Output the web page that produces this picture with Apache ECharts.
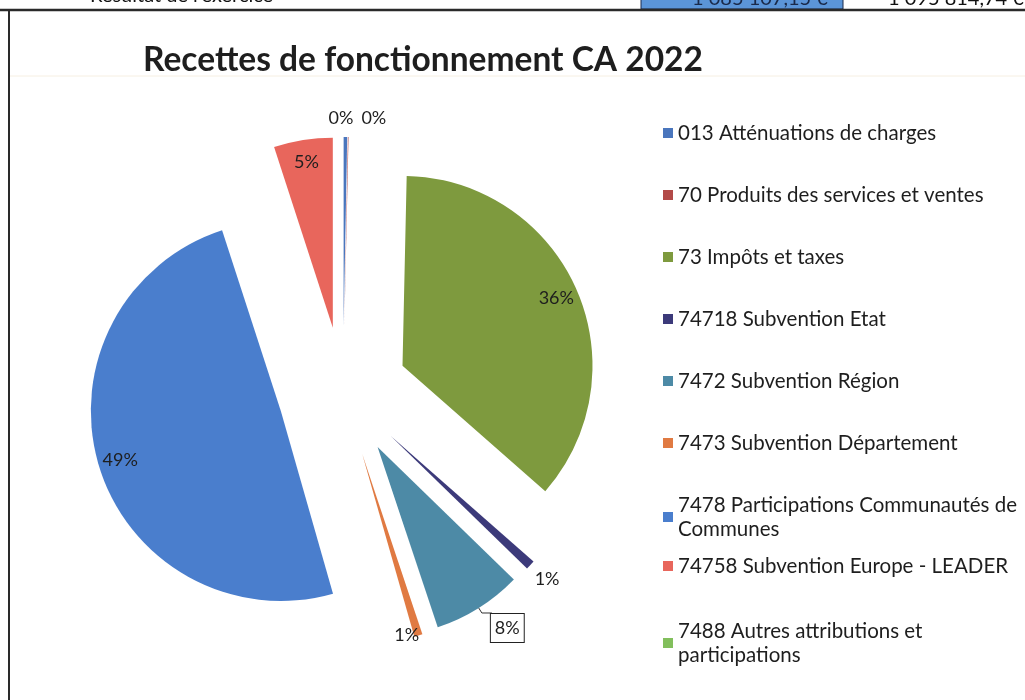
<!DOCTYPE html>
<html>
<head>
<meta charset="utf-8">
<script src="https://cdn.jsdelivr.net/npm/echarts@6/dist/echarts.min.js"></script>
<style>
  html, body { margin: 0; padding: 0; background: #fff; }
  #chart { width: 1025px; height: 700px; }
</style>
</head>
<body>
<div id="chart"></div>
<script>
  // postes de recettes (ordre de la légende / du camembert)
  var categories = [
    '013 Atténuations de charges',
    '70 Produits des services et ventes',
    '73 Impôts et taxes',
    '74718 Subvention Etat',
    '7472 Subvention Région',
    '7473 Subvention Département',
    '7478 Participations Communautés de Communes',
    '74758 Subvention Europe - LEADER',
    '7488 Autres attributions et participations'
  ];
  // parts en %
  var values = [0.3, 0.05, 36.1, 0.8, 7.6, 0.7, 49.4, 5.0, 0];
  var colors = ['#4a76bd', '#b24a48', '#7e9a3e', '#3c3a7a', '#4d8aa6', '#e07a42', '#4a7ecd', '#e8665c', '#82bf5c'];

  var chart = echarts.init(document.getElementById('chart'));

  var FONT = 'Lato, "Noto Sans", sans-serif';
  var outsideIdx = [0, 1, 3, 4, 5];   // étiquettes à l'extérieur
  var insideIdx = [2, 6, 7];          // étiquettes dans la part

  function pct(p) { return Math.round(p.percent) + '%'; }

  // retour à la ligne des libellés de légende (34 caractères max)
  function wrap(name) {
    var lines = [], cur = '';
    name.split(' ').forEach(function (w) {
      if (cur && (cur + ' ' + w).length > 34) { lines.push(cur); cur = w; }
      else cur = cur ? cur + ' ' + w : w;
    });
    lines.push(cur);
    return lines.join('\n');
  }

  var mainData = categories.map(function (name, i) {
    var item = { name: name, value: values[i], selected: true, itemStyle: { color: colors[i] } };
    if (outsideIdx.indexOf(i) >= 0) {
      item.label = { show: true };
      item.labelLine = { show: false };
    }
    if (i === 4) {
      item.label = {
        show: true, borderColor: '#222', borderWidth: 1, padding: [6, 4, 4, 4],
        backgroundColor: '#fff'
      };
      item.labelLine = { show: true, length: 6, length2: 10, lineStyle: { color: '#333', width: 1 } };
    }
    return item;
  });

  var overlayData = categories.map(function (name, i) {
    return {
      name: name, value: values[i], selected: true,
      label: { show: insideIdx.indexOf(i) >= 0 }
    };
  });

  var legendText = { fontFamily: FONT, fontSize: 20.5, color: '#1e1e1e', lineHeight: 24 };

  var option = {
    backgroundColor: '#fff',
    animation: false,
    title: {
      text: 'Recettes de fonctionnement CA 2022',
      left: 418, top: 38, textAlign: 'center',
      textStyle: { fontFamily: FONT, fontSize: 33.5, fontWeight: 'bold', color: '#1e1e1e' }
    },
    legend: [{
      orient: 'vertical', left: 663, top: 121, itemGap: 38, padding: 0,
      itemWidth: 10, itemHeight: 10, icon: 'rect',
      data: categories.slice(0, 7),
      selectedMode: false, formatter: wrap,
      textStyle: legendText
    }, {
      orient: 'vertical', left: 663, top: 554, itemGap: 41, padding: 0,
      itemWidth: 10, itemHeight: 10, icon: 'rect',
      data: categories.slice(7),
      selectedMode: false, formatter: wrap,
      textStyle: legendText
    }],
    graphic: [
      { type: 'rect', shape: { x: 641, y: -4, width: 202, height: 13 },
        style: { fill: '#5b95d8', stroke: '#1c2b4a', lineWidth: 1 } },
      { type: 'text', x: 692, y: -11, style: { text: '1 085 107,15 €', fontFamily: FONT, fontSize: 20, fill: '#1a2a4a' } },
      { type: 'text', x: 888, y: -11, style: { text: '1 095 814,74 €', fontFamily: FONT, fontSize: 20, fill: '#111' } },
      { type: 'text', x: 90, y: -14, style: { text: 'Résultat de l\'exercice', fontFamily: FONT, fontSize: 20, fill: '#111' } },
      { type: 'line', shape: { x1: 0, y1: 10, x2: 1025, y2: 10 }, style: { stroke: '#2a2a2a', lineWidth: 2.5 } },
      { type: 'line', shape: { x1: 9, y1: 10, x2: 9, y2: 700 }, style: { stroke: '#2a2a2a', lineWidth: 2 } },
      { type: 'line', shape: { x1: 10, y1: 76, x2: 1025, y2: 76 }, style: { stroke: '#f6efe2', lineWidth: 1 } }
    ],
    series: [{
      type: 'pie',
      center: [343, 392],
      radius: 190,
      startAngle: 90,
      clockwise: true,
      selectedMode: 'multiple',
      selectedOffset: 65,
      avoidLabelOverlap: false,
      silent: true,
      itemStyle: { borderWidth: 0 },
      label: {
        show: false, position: 'outside', formatter: pct,
        fontFamily: FONT, fontSize: 18, color: '#1e1e1e'
      },
      labelLine: { length: 10, length2: 0 },
      labelLayout: function (p) {
        if (p.dataIndex === 0) return { dx: -22, dy: -9 };
        if (p.dataIndex === 1) return { dx: 8, dy: -9 };
        if (p.dataIndex === 3) return { dx: -8, dy: 7 };
        if (p.dataIndex === 4) return { dx: -6, dy: 15 };
        if (p.dataIndex === 5) return { dx: -32, dy: -10 };
      },
      data: mainData
    }, {
      // couche transparente qui porte les étiquettes intérieures
      type: 'pie',
      center: [343, 392],
      radius: [140, 190],
      startAngle: 90,
      clockwise: true,
      selectedMode: 'multiple',
      selectedOffset: 65,
      silent: true,
      itemStyle: { color: 'transparent', borderWidth: 0 },
      label: {
        show: false, position: 'inside', formatter: pct,
        fontFamily: FONT, fontSize: 18, color: '#1e1e1e'
      },
      labelLine: { show: false },
      data: overlayData
    }]
  };

  chart.setOption(option);
</script>
</body>
</html>
